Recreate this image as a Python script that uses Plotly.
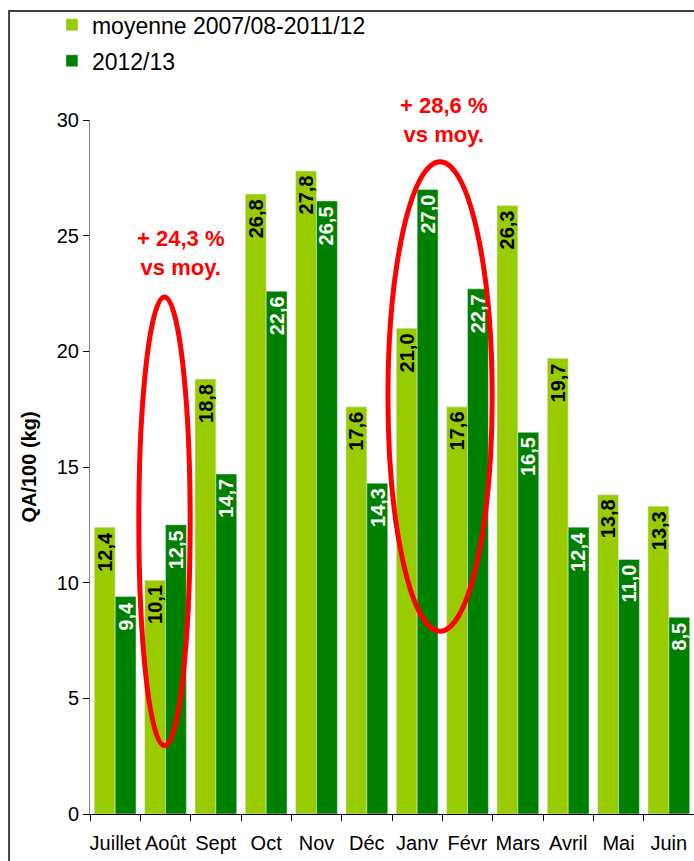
import plotly.graph_objects as go

months = ["Juillet", "Août", "Sept", "Oct", "Nov", "Déc", "Janv", "Févr", "Mars", "Avril", "Mai", "Juin"]
moyenne = [12.4, 10.1, 18.8, 26.8, 27.8, 17.6, 21.0, 17.6, 26.3, 19.7, 13.8, 13.3]
campagne = [9.4, 12.5, 14.7, 22.6, 26.5, 14.3, 27.0, 22.7, 16.5, 12.4, 11.0, 8.5]
series_names = ["moyenne 2007/08-2011/12", "2012/13"]
notes = ["+ 24,3 %<br>vs moy.", "+ 28,6 %<br>vs moy."]

def fmt(v):
    return f"{v:.1f}".replace(".", ",")

FONT = "Liberation Sans, Arial, sans-serif"
fig = go.Figure()
fig.add_trace(go.Bar(x=months, y=moyenne, name=series_names[0], marker_color="#99CC00", legendgroup="a"))
fig.add_trace(go.Bar(x=months, y=campagne, name=series_names[1], marker_color="#008000", legendgroup="b"))

# value labels inside the top of each bar (rotated)
BAR_HALF = 10.45
for i, m in enumerate(months):
    for vals, shift, col in ((moyenne, -BAR_HALF, "black"), (campagne, BAR_HALF, "white")):
        fig.add_annotation(x=m, y=vals[i], xref="x", yref="y", text=fmt(vals[i]),
                           showarrow=False, textangle=-90, xshift=shift, yshift=-3,
                           xanchor="center", yanchor="top",
                           font=dict(color=col, size=20, family=FONT, weight="bold"))

# red ellipses
fig.add_shape(type="circle", xref="x", yref="y", x0=0.47, x1=1.49, y0=2.95, y1=22.35,
              line=dict(color="#FF0000", width=5))
fig.add_shape(type="circle", xref="x", yref="y", x0=5.42, x1=7.49, y0=7.9, y1=28.2,
              line=dict(color="#FF0000", width=5))
# outer frame
fig.add_shape(type="rect", xref="paper", yref="paper", x0=-0.134, x1=1.2, y0=-0.2, y1=1.157,
              line=dict(color="#404040", width=2), layer="below")

fig.add_annotation(x=1.3, y=24.25, xref="x", yref="y", text=notes[0], showarrow=False,
                   font=dict(color="#FF0000", size=22, family=FONT, weight="bold"), align="center")
fig.add_annotation(x=6.52, y=30.0, xref="x", yref="y", text=notes[1], showarrow=False,
                   font=dict(color="#FF0000", size=22, family=FONT, weight="bold"), align="center")

fig.update_layout(
    width=694, height=861,
    margin=dict(l=90, r=0, t=120, b=47),
    paper_bgcolor="white", plot_bgcolor="white",
    barmode="group", bargap=0.17, bargroupgap=0,
    font=dict(family=FONT, color="black"),
    showlegend=True,
    legend=dict(x=-0.063, y=1.168, xanchor="left", yanchor="top", font=dict(size=23),
                bgcolor="rgba(0,0,0,0)", traceorder="grouped", tracegroupgap=3, itemwidth=30),
    xaxis=dict(type="category", showline=True, linecolor="#000000", linewidth=1,
               ticks="outside", tickson="boundaries", ticklen=6, tickcolor="#000000",
               tickfont=dict(size=20), tickangle=0, ticklabelstandoff=11, showgrid=False),
    yaxis=dict(range=[0, 30], dtick=5, showline=True, linecolor="#808080", linewidth=1,
               ticks="outside", ticklen=6, tickcolor="#000000", tickfont=dict(size=20),
               showgrid=False, zeroline=False,
               title=dict(text="QA/100 (kg)", font=dict(size=20, weight="bold"), standoff=14)),
)
fig.write_html("out.html")
